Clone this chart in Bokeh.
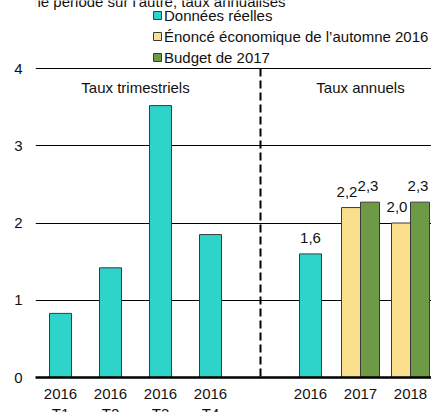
from bokeh.plotting import figure
from bokeh.models import (ColumnDataSource, Range1d, FixedTicker, Legend, LegendItem,
                          Label, LabelSet)
from bokeh.core.properties import value
from bokeh.embed import file_html
from bokeh.resources import INLINE

# ---- data ----
title_text = "%, une période sur l'autre, taux annualisés"
quarter_labels = ["2016\nT1", "2016\nT2", "2016\nT3", "2016\nT4"]
quarter_pos = [0, 1, 2, 3]
quarter_actual = [0.83, 1.42, 3.52, 1.85]

year_labels = ["2016", "2017", "2018"]
year_pos = [5, 6, 7]
annual_actual = [1.6]          # 2016
fall_2016 = [2.2, 2.0]         # 2017, 2018
budget_2017 = [2.27, 2.27]     # 2017, 2018

divider_x = [4]
series_names = ["Données réelles", "Énoncé économique de l’automne 2016", "Budget de 2017"]
colors = ["#2ED3CA", "#F9DF8E", "#6F9A45"]
y_ticks = [0, 1, 2, 3, 4]
section_labels = ["Taux trimestriels", "Taux annuels"]
section_x = [1.5, 6]

FONT = "Liberation Sans"
FS = "15px"

# the frame reaches the top of the canvas so that the legend (above the 4-line) is drawn
PLOT_H = 309          # pixels from 0 to 4
FRAME_H = 377
y_top = y_ticks[-1] * FRAME_H / PLOT_H

p = figure(frame_width=396, frame_height=FRAME_H, output_backend="svg", toolbar_location=None,
           x_range=Range1d(-0.5, 7.42), y_range=Range1d(0, y_top),
           min_border_left=35, min_border_right=0, min_border_top=0, min_border_bottom=35)
p.margin = (0, 0, -20, 0)
p.outline_line_color = None
p.background_fill_color = "white"
p.border_fill_color = "white"

def fmt(v):
    return f"{v:.1f}".replace(".", ",")

act_x = quarter_pos + year_pos[:1]
act_y = quarter_actual + annual_actual
src_act = ColumnDataSource(dict(x=act_x, top=act_y))
r_act = p.vbar(x="x", top="top", width=0.44, source=src_act,
               fill_color=colors[0], line_color="#3a3a3a", line_width=1)

bw = 0.38
src_fall = ColumnDataSource(dict(x=[v - bw / 2 for v in year_pos[1:]], top=fall_2016,
                                 lbl=[fmt(v) for v in fall_2016]))
r_fall = p.vbar(x="x", top="top", width=bw, source=src_fall,
                fill_color=colors[1], line_color="#3a3a3a", line_width=1)
src_bud = ColumnDataSource(dict(x=[v + bw / 2 for v in year_pos[1:]], top=budget_2017,
                                lbl=[fmt(v) for v in budget_2017]))
r_bud = p.vbar(x="x", top="top", width=bw, source=src_bud,
               fill_color=colors[2], line_color="#3a3a3a", line_width=1)

src_act_ann = ColumnDataSource(dict(x=year_pos[:1], top=annual_actual,
                                    lbl=[fmt(v) for v in annual_actual]))
for src, xo in [(src_act_ann, 0), (src_fall, -4), (src_bud, -2)]:
    p.add_layout(LabelSet(x="x", y="top", text="lbl", source=src, x_offset=xo, y_offset=11,
                          text_align="center", text_baseline="alphabetic",
                          text_font=value(FONT), text_font_size=FS, text_color="#111111"))

# dashed separator from the top gridline down to 0
p.segment(x0=divider_x, y0=[y_ticks[-1]], x1=divider_x, y1=[y_ticks[0]],
          line_color="black", line_width=2, line_dash="8 4")

for sx, st in zip(section_x, section_labels):
    p.add_layout(Label(x=sx, y=3.75, text=st, text_align="center",
                       text_baseline="middle", text_font=FONT, text_font_size=FS,
                       text_color="#111111"))

# subtitle, cut at the top edge as in the reference
p.add_layout(Label(x=-33, y=FRAME_H - 1, x_units="screen", y_units="screen", text=title_text,
                   text_align="left", text_baseline="alphabetic",
                   text_font=FONT, text_font_size=FS, text_color="#111111"))

p.xaxis.ticker = FixedTicker(ticks=quarter_pos + year_pos)
p.xaxis.major_label_overrides = {k: v for k, v in zip(quarter_pos + year_pos, quarter_labels + year_labels)}
p.xaxis.axis_line_color = "black"
p.xaxis.axis_line_width = 2.5
p.xaxis.major_tick_line_color = None
p.xaxis.major_tick_out = 0
p.xaxis.major_tick_in = 0
p.xaxis.minor_tick_line_color = None
p.xaxis.major_label_standoff = 7
p.xaxis.major_label_text_font = FONT
p.xaxis.major_label_text_font_size = FS
p.xaxis.major_label_text_color = "#111111"
p.xaxis.major_label_text_line_height = 1.2

p.yaxis.ticker = FixedTicker(ticks=y_ticks)
p.yaxis.axis_line_color = None
p.yaxis.major_tick_line_color = None
p.yaxis.major_tick_out = 0
p.yaxis.major_tick_in = 0
p.yaxis.minor_tick_line_color = None
p.yaxis.major_label_standoff = 13
p.yaxis.major_label_text_font = FONT
p.yaxis.major_label_text_font_size = FS
p.yaxis.major_label_text_color = "#111111"

p.xgrid.grid_line_color = None
p.ygrid.ticker = FixedTicker(ticks=y_ticks)
p.ygrid.grid_line_color = "black"
p.ygrid.grid_line_width = 1

legend = Legend(items=[LegendItem(label=series_names[0], renderers=[r_act]),
                       LegendItem(label=series_names[1], renderers=[r_fall]),
                       LegendItem(label=series_names[2], renderers=[r_bud])],
                location=(117, 310), orientation="vertical",
                padding=0, margin=0, spacing=1, label_height=20, glyph_height=10, glyph_width=10,
                label_standoff=2, label_text_font=FONT, label_text_font_size=FS,
                label_text_color="#111111",
                border_line_color=None, background_fill_alpha=0)
p.add_layout(legend, "center")

open("out.html", "w").write(file_html(p, INLINE))
